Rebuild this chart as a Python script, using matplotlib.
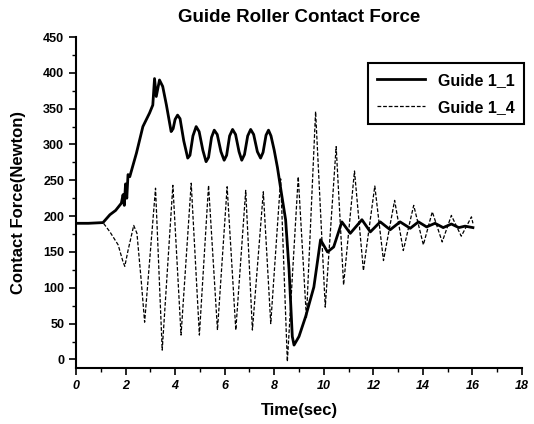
import matplotlib
matplotlib.use("Agg")
import matplotlib.pyplot as plt
from matplotlib.ticker import MultipleLocator

plt.rcParams['font.family'] = ['Liberation Sans', 'DejaVu Sans']

# Guide 1_1 (solid)
t_guide11 = [0, 0.5, 1.09, 1.37, 1.6, 1.83, 1.9, 1.95, 2.0, 2.05, 2.1, 2.17,
             2.44, 2.7, 2.97, 3.1, 3.17, 3.24, 3.37, 3.5, 3.65, 3.84, 3.92,
             4.0, 4.1, 4.2, 4.35, 4.51, 4.6, 4.72, 4.85, 4.97, 5.12, 5.25,
             5.35, 5.47, 5.58, 5.7, 5.85, 5.98, 6.08, 6.2, 6.32, 6.44, 6.58,
             6.69, 6.8, 6.93, 7.05, 7.17, 7.32, 7.45, 7.55, 7.67, 7.77, 7.87,
             8.0, 8.13, 8.3, 8.46, 8.6, 8.73, 8.8, 9.0, 9.27, 9.6, 9.87,
             10.15, 10.4, 10.73, 11.07, 11.54, 11.88, 12.28, 12.68, 13.08,
             13.49, 13.82, 14.15, 14.49, 14.82, 15.15, 15.45, 15.7, 16.02]
f_guide11 = [190, 190, 191, 202, 208, 218, 230, 215, 245, 225, 258, 255,
             288, 325, 344, 355, 392, 367, 390, 381, 355, 318, 322,
             335, 341, 336, 305, 281, 285, 312, 325, 318, 292, 276,
             282, 310, 320, 314, 290, 278, 285, 312, 321, 314, 290,
             278, 286, 312, 321, 314, 290, 281, 289, 313, 320, 312,
             292, 268, 230, 195, 125, 32, 20, 32, 60, 101, 167,
             150, 157, 192, 176, 195, 178, 192, 181, 192,
             183, 192, 185, 190, 184, 189, 184, 186, 184]

# Guide 1_4 (dashed)
t_guide14 = [0, 1.09, 1.37, 1.7, 1.9, 1.97, 2.1, 2.33, 2.46, 2.63, 2.77,
             3.21, 3.48, 3.91, 4.24, 4.65, 4.98, 5.35, 5.71, 6.1, 6.45,
             6.85, 7.12, 7.56, 7.86, 8.26, 8.53, 8.97, 9.3, 9.67, 10.06,
             10.5, 10.8, 11.24, 11.6, 12.06, 12.41, 12.86, 13.21, 13.63,
             14.02, 14.38, 14.78, 15.15, 15.55, 15.96, 16.02]
f_guide14 = [190, 191, 178, 160, 136, 130, 152, 187, 176, 111, 52,
             239, 13, 243, 34, 246, 34, 243, 41, 241, 41,
             236, 41, 234, 50, 252, -3, 255, 58, 346, 73,
             297, 104, 263, 124, 242, 138, 222, 152, 215,
             160, 206, 164, 201, 172, 199, 190]

x_ticks = [0, 2, 4, 6, 8, 10, 12, 14, 16, 18]
y_ticks = [0, 50, 100, 150, 200, 250, 300, 350, 400, 450]

fig = plt.figure(figsize=(5.34, 4.24), dpi=100)
ax = fig.add_axes([0.1423, 0.132, 0.8352, 0.7807])

ax.plot(t_guide11, f_guide11, color='black', lw=2.0, label='Guide 1_1')
ax.plot(t_guide14, f_guide14, color='black', lw=0.9,
        linestyle=(0, (3, 1.5)), label='Guide 1_4')

ax.set_xlim(0, 18)
ax.set_ylim(-12, 450)
ax.set_xticks(x_ticks)
ax.set_yticks(y_ticks)
ax.xaxis.set_minor_locator(MultipleLocator(1))
ax.yaxis.set_minor_locator(MultipleLocator(25))
ax.tick_params(which='major', direction='out', length=5, width=1.2)
ax.tick_params(which='minor', direction='out', length=3, width=1.0)

for lab in ax.get_xticklabels():
    lab.set_fontweight('bold')
    lab.set_fontstyle('italic')
    lab.set_fontsize(9)
for lab in ax.get_yticklabels():
    lab.set_fontweight('bold')
    lab.set_fontsize(9)

ax.spines['top'].set_visible(False)
ax.spines['right'].set_visible(False)
ax.spines['left'].set_linewidth(1.5)
ax.spines['bottom'].set_linewidth(1.5)

ax.set_title('Guide Roller Contact Force', fontsize=13.5, fontweight='bold', pad=11)
ax.set_xlabel('Time(sec)', fontsize=12, fontweight='bold', labelpad=8)
ax.set_ylabel('Contact Force(Newton)', fontsize=12, fontweight='bold', labelpad=12)

leg = ax.legend(loc='upper right', bbox_to_anchor=(1.005, 0.921), borderaxespad=0,
                fancybox=False, framealpha=1, handlelength=3, borderpad=0.6,
                labelspacing=0.75, prop={'weight': 'bold', 'size': 11.5})
leg.get_frame().set_edgecolor('black')
leg.get_frame().set_linewidth(1.5)

fig.savefig('out.png', dpi=100)
